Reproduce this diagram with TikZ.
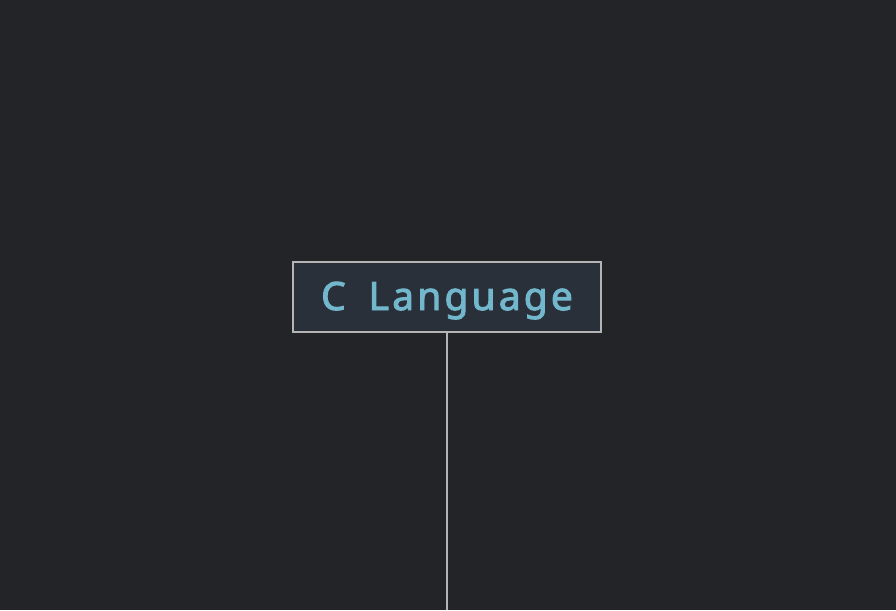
\documentclass[tikz,border=0pt]{standalone}
\usepackage{fontspec}
\setmainfont{Noto Sans}
\newfontfamily\labelfont[LetterSpace=8,FakeBold=2.5]{Noto Sans}
\usepackage{xcolor}
\usetikzlibrary{calc}

\definecolor{bgdark}{HTML}{232428}
\definecolor{boxfill}{HTML}{29303A}
\definecolor{boxline}{HTML}{B4B4B4}
\definecolor{textblue}{HTML}{72B7CC}

\begin{document}
\begin{tikzpicture}[x=1pt,y=-1pt]

    % Background
    \fill[bgdark] (0,0) rectangle (896,610);
    \useasboundingbox (0,0) rectangle (896,610);

    % Topic box
    \node[draw=boxline,line width=1.6pt,fill=boxfill,text=textblue,
          minimum width=308pt,minimum height=70pt,inner sep=0pt,
          text height=30pt,text depth=4pt,
          font=\labelfont\fontsize{39}{44}\selectfont]
      (lang) at (447,297) {C\hspace*{23pt}Language};

    % Free end of the stem
    \coordinate (stem) at (447,610);

    % Stem going down
    \draw[boxline,line width=1.6pt] (lang.south) -- (stem);

\end{tikzpicture}
\end{document}
